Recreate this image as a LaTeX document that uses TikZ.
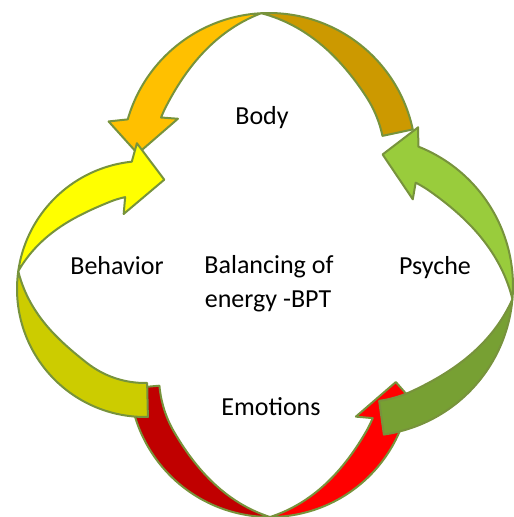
\documentclass[tikz,border=0pt]{standalone}
\usepackage{fontspec}
\setmainfont{Carlito}
\usetikzlibrary{positioning}

\definecolor{bodytail}{HTML}{CC9900}
\definecolor{bodyhead}{HTML}{FFC000}
\definecolor{behavtail}{HTML}{CCCC00}
\definecolor{behavhead}{HTML}{FFFF00}
\definecolor{emotail}{HTML}{C00000}
\definecolor{emohead}{HTML}{FF0000}
\definecolor{psychtail}{HTML}{77A033}
\definecolor{psychhead}{HTML}{99CC3C}
\definecolor{rim}{HTML}{77933C}

\tikzset{
  band/.style={draw=rim, line width=2pt, line join=round},
  word/.style={font=\fontsize{26}{33}\selectfont, anchor=base, inner sep=0pt}
}

\begin{document}
\begin{tikzpicture}[x=1pt, y=-1pt]
        \useasboundingbox (0,0) rectangle (514,517);
        
        % circular arrows: centre, radius, width, tail, twist, head, direction
        \foreach \cx/\cy/\rad/\wid/\atail/\atwist/\ajoin/\dir/\coltail/\colhead in
        {269/160/147/31/-12/-93/-158.5/-1/bodytail/bodyhead,
         270/376/141/30/175/90/22.3/-1/emotail/emohead,
         145/289/128/34/88.7/188/257.8/1/behavtail/behavhead,
         363/286/150/34/82/5/-63/-1/psychtail/psychhead}
        {
            \pgfmathsetmacro\aout{\ajoin+(\dir)*14/\rad*57.3}
            \pgfmathsetmacro\abo{\ajoin+(\dir)*23/(\rad+18)*57.3}
            \pgfmathsetmacro\abi{\ajoin-(\dir)*5/(\rad-\wid-16)*57.3}
            \pgfmathsetmacro\atip{\ajoin+(\dir)*43/(\rad-\wid/2)*57.3}
            \begin{scope}[shift={(\cx,\cy)}]
                \draw[band, fill=\coltail]
                    plot[domain=\atail:\atwist, samples=50] (\x:\rad)
                    -- plot[domain=\atwist:\atail, samples=50]
                       (\x:{\rad-\wid*sin(min(90,1.5*abs(\x-(\atwist))))}) -- cycle;
                \draw[band, fill=\colhead]
                    plot[domain=\atwist:\aout, samples=50] (\x:\rad)
                    -- ({\abo}:{\rad+18}) -- ({\atip}:{\rad-\wid/2})
                    -- ({\abi}:{\rad-\wid-16})
                    -- plot[domain=\ajoin:\atwist, samples=50]
                       (\x:{\rad-\wid*sin(min(90,1.5*abs(\x-(\atwist))))}) -- cycle;
            \end{scope}
        };
        
        % texts
        \node[word] (body) at (262,124) {Body};
        \node[word] (behavior) at (117,274) {Behavior};
        \node[word] (psyche) at (435,274) {Psyche};
        \node[word] (balance) at (269,273) {Balancing of};
        \node[word] (energy) at (268,307) {energy -BPT};
        \node[word] (emotions) at (271,415) {Emotions};
    \end{tikzpicture}
\end{document}
